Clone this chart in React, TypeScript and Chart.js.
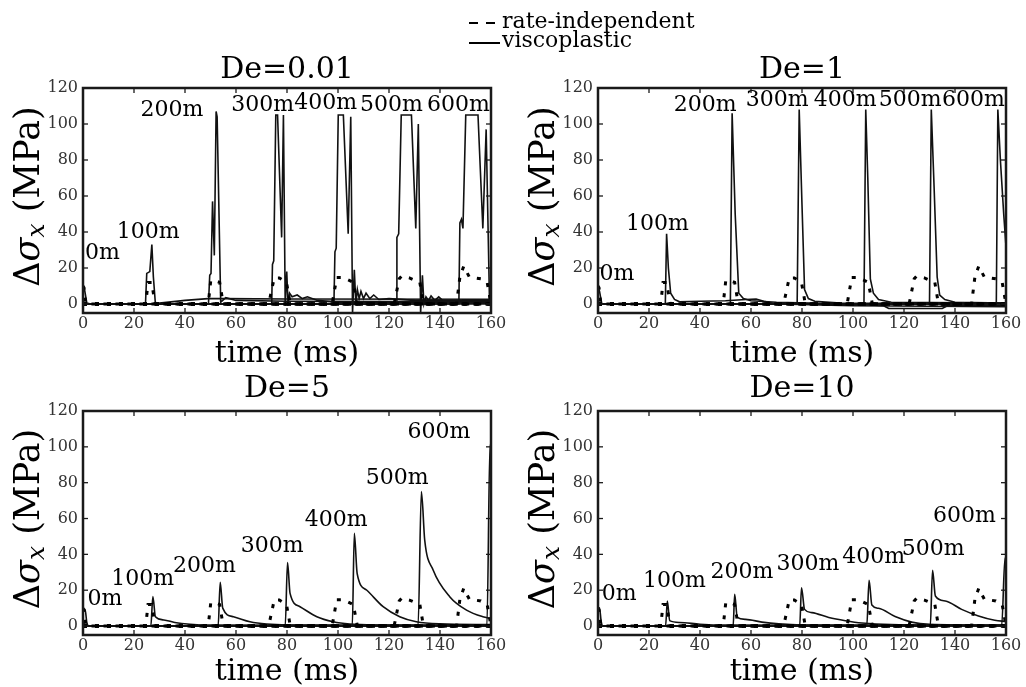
import React, { useEffect, useRef } from "react";
import { Chart, registerables } from "chart.js";
Chart.register(...registerables);

type P = [number, number][];
const FONT = "'DejaVu Serif', serif";
Chart.defaults.font.family = FONT;

const xTicks = [0, 20, 40, 60, 80, 100, 120, 140, 160];
const yTicks = [0, 20, 40, 60, 80, 100, 120];
const stations = ["0m", "100m", "200m", "300m", "400m", "500m", "600m"];

// rate-independent (same in every panel)
const ri0: P = [[0, 10], [0.4, 9], [1.1, 0], [160, 0]];
const ri100: P = [[0, 0], [24.6, 0], [25.5, 12], [26.9, 12], [28.3, 0], [160, 0]];
const ri200: P = [[0, 0], [49.1, 0], [50.1, 13], [51.5, 13], [53.6, 12], [55, 0], [160, 0]];
const ri300: P = [[0, 0], [72.8, 0], [75, 14.5], [77, 14.5], [79.8, 12], [81.3, 0], [160, 0]];
const ri400: P = [[0, 0], [97.7, 0], [99.5, 14.7], [102, 14.7], [106, 12], [107.6, 0], [160, 0]];
const ri500: P = [[0, 0], [122, 0], [124, 14], [125, 15.6], [128, 14.5], [132.1, 12], [133.5, 0], [160, 0]];
const ri600: P = [[0, 0], [146.5, 0], [147.8, 15], [149.3, 21], [151.5, 15], [156, 14], [158.5, 12], [160, 0]];

// viscoplastic, De=0.01
const a0: P = [[0, 10], [0.6, 8], [1.5, 0.5], [3, 0], [160, 0]];
const a100: P = [[0, 0], [24.5, 0], [25, 17], [26.2, 18], [27, 33], [27.6, 15], [28.4, 0], [30, 0.5], [40, 2], [49, 3], [55, 3], [80, 2.8], [160, 2.6]];
const a200: P = [[0, 0], [49.2, 0], [49.7, 16], [50.2, 17], [50.8, 57], [51.5, 27], [52.2, 107], [52.6, 104], [54, 1], [56, 3.5], [60, 2], [80, 1.5], [120, 1.3], [160, 1.2]];
const a300: P = [[0, 0], [74, 0], [74.3, 22], [74.8, 24], [75.6, 105], [76.3, 105], [77.9, 37], [78.6, 105], [79.3, -1], [79.9, 18], [80.4, 0], [81, 6], [82, 4], [84, 5], [86, 3], [88, 4], [92, 2], [100, 1], [160, 0.5]];
const a400: P = [[0, 0], [98.4, 0], [98.8, 29], [99.3, 31], [100.1, 105], [102.1, 105], [104, 39], [105, 104], [105.7, -5], [106.4, 19], [107, 0], [107.6, 8], [108.3, 3], [109, 7], [110, 3], [111, 6], [112.5, 3], [114, 5], [116, 2.5], [120, 3], [130, 2], [160, 1.8]];
const a500: P = [[0, 0], [122.8, 0], [123.1, 37], [123.8, 39], [124.8, 105], [128.8, 105], [130.5, 42], [131.5, 100], [132.4, -5], [133.1, 16], [133.7, 0], [134.5, 4], [135.5, 2], [136.5, 4.5], [138, 2], [139.5, 4], [141, 2], [145, 1.5], [160, 1]];
const a600: P = [[0, 0], [147.4, 0], [147.8, 45], [148.4, 47], [149, 42], [150.1, 105], [154.9, 105], [156.8, 42], [158.1, 97], [159.4, 2], [160, 5]];

// viscoplastic, De=1
const b0: P = [[0, 10], [0.6, 7], [1.5, 0], [160, 0]];
const b100: P = [[0, 0], [26.4, 0], [26.9, 39], [27.6, 20], [28.5, 6], [30, 2.5], [32, 1.2], [40, 1.5], [50, 1.8], [58, 2.5], [62, 2.8], [65, 1.5], [70, 0], [100, -1], [160, -1.5]];
const b200: P = [[0, 0], [51.9, 0], [52.6, 106], [53.8, 50], [55.2, 6], [57, 3], [60, 1.8], [70, 1], [100, 0], [112, -1], [114, -2.5], [135, -2.5], [137, -1], [160, -1]];
const b300: P = [[0, 0], [78.1, 0], [78.9, 108], [80, 55], [81, 8], [82.5, 3], [85, 1.5], [95, 0.5], [160, 0]];
const b400: P = [[0, 0], [104.3, 0], [105, 108], [105.8, 70], [106.8, 14], [108, 6], [110, 2.5], [115, 1], [160, 0.5]];
const b500: P = [[0, 0], [130, 0], [130.7, 108], [131.8, 65], [133, 15], [134, 5], [136, 2.5], [140, 1], [160, 0.5]];
const b600: P = [[0, 0], [156.2, 0], [156.8, 108], [157.8, 80], [159.1, 50], [160, 32]];

// viscoplastic, De=5
const c0: P = [[0, 9], [0.8, 9.3], [1.5, 2], [2.2, 0], [160, 0]];
const c100: P = [[0, 0], [26.6, 0], [27.4, 16.4], [28.4, 5.2], [31.7, 3.4], [36, 2], [42, 1], [50, 0.5], [160, 0.3]];
const c200: P = [[0, 0], [53, 0], [53.8, 24.4], [54.8, 10], [59, 5.2], [65.5, 2.4], [72, 1.1], [80, 0.6], [160, 0.3]];
const c300: P = [[0, 0], [79.3, 0], [80.2, 35.4], [81.2, 18.2], [85.1, 10.8], [91.7, 5.2], [98.1, 2.4], [104.6, 1.1], [115, 0.6], [160, 0.4]];
const c400: P = [[0, 0], [105.6, 0], [106.4, 51.8], [107.5, 29.4], [111.2, 20.1], [117.7, 10.8], [124.2, 5.2], [130.7, 2.4], [140, 1.2], [160, 0.8]];
const c500: P = [[0, 0], [131.4, 0], [132.7, 75], [134, 48], [137.3, 31.3], [143.8, 16.4], [150.4, 8.9], [156.8, 5.2], [160, 4.2]];
const c600: P = [[0, 0], [158.4, 0], [159.6, 101], [160, 100]];

// viscoplastic, De=10
const d0: P = [[0, 9], [0.6, 10.2], [1.2, 3], [1.8, 0], [160, 0]];
const d100: P = [[0, 0], [26.5, 0], [27.2, 14], [28.1, 3], [32, 2], [40, 1], [50, 0.5], [160, 0.3]];
const d200: P = [[0, 0], [53, 0], [53.6, 17.7], [54.6, 4.8], [57.9, 3.7], [64.3, 2.2], [70.9, 1.2], [80, 0.6], [160, 0.3]];
const d300: P = [[0, 0], [79.1, 0], [79.8, 21.4], [81, 9.3], [83.9, 7.5], [90.5, 4.8], [97, 3], [103.5, 1.7], [115, 0.8], [160, 0.4]];
const d400: P = [[0, 0], [105.4, 0], [106.3, 25.5], [107.4, 11.7], [110, 9.9], [116.5, 5.3], [123, 2.2], [130, 1], [160, 0.5]];
const d500: P = [[0, 0], [130.3, 0], [131.2, 31.1], [132.3, 16.8], [136.2, 14], [142.6, 9.3], [149.2, 5.6], [155.6, 3.2], [160, 2.6]];
const d600: P = [[0, 0], [158.3, 0], [159.6, 38], [160, 37]];

// station label anchor points (data units)
const lblXA = [7.6, 25.6, 34.9, 70.5, 95.2, 121, 147.2];
const lblYA = [28, 39.6, 107.8, 110.5, 111.5, 110.5, 110.5];
const lblXB = [7.4, 23.3, 42, 70.3, 96.9, 122.4, 147.2];
const lblYB = [16.5, 44.4, 110.5, 113.3, 113.3, 113.3, 113.3];
const lblXC = [8.6, 23.4, 47.6, 74.2, 99.3, 123.2, 139.6];
const lblYC = [15.1, 26.1, 33.5, 44.7, 58.8, 82.5, 108];
const lblXD = [8.3, 30, 56.4, 82.3, 108.1, 131.4, 143.7];
const lblYD = [18, 25.1, 29.8, 34.5, 38.2, 42.8, 61.5];

const riCurves = [ri0, ri100, ri200, ri300, ri400, ri500, ri600];

const panels = [
  { title: "De=0.01", vp: [a0, a100, a200, a300, a400, a500, a600], lx: lblXA, ly: lblYA, smooth: false,
    left: 0, top: 45, w: 513, h: 330, yW: 83, padR: 22, tTop: 10, tBot: 3, xH: 62, xtBot: 6 },
  { title: "De=1", vp: [b0, b100, b200, b300, b400, b500, b600], lx: lblXB, ly: lblYB, smooth: false,
    left: 513, top: 45, w: 513, h: 330, yW: 85, padR: 20, tTop: 10, tBot: 3, xH: 62, xtBot: 6 },
  { title: "De=5", vp: [c0, c100, c200, c300, c400, c500, c600], lx: lblXC, ly: lblYC, smooth: true,
    left: 0, top: 365, w: 513, h: 322, yW: 83, padR: 22, tTop: 9, tBot: 7, xH: 52, xtBot: 0 },
  { title: "De=10", vp: [d0, d100, d200, d300, d400, d500, d600], lx: lblXD, ly: lblYD, smooth: true,
    left: 513, top: 365, w: 513, h: 322, yW: 85, padR: 20, tTop: 9, tBot: 7, xH: 52, xtBot: 0 },
];

const framePlugin = {
  id: "frame",
  afterDatasetsDraw(chart: any) {
    const { ctx, chartArea: a, scales } = chart;
    ctx.save();
    ctx.strokeStyle = "#1a1a1a";
    ctx.lineWidth = 1.3;
    const ln = (x1: number, y1: number, x2: number, y2: number) => {
      ctx.beginPath(); ctx.moveTo(x1, y1); ctx.lineTo(x2, y2); ctx.stroke();
    };
    xTicks.forEach((v) => {
      const px = scales.x.getPixelForValue(v);
      ln(px, a.bottom, px, a.bottom - 5);
      ln(px, a.top, px, a.top + 5);
    });
    yTicks.forEach((v) => {
      const py = scales.y.getPixelForValue(v);
      ln(a.left, py, a.left + 5, py);
      ln(a.right, py, a.right - 5, py);
    });
    ctx.lineWidth = 2.5;
    ctx.strokeRect(a.left, a.top, a.right - a.left, a.bottom - a.top);
    ctx.restore();
  },
};

const labelPlugin = {
  id: "stationLabels",
  afterDatasetsDraw(chart: any, _args: any, opts: any) {
    const { ctx, scales } = chart;
    ctx.save();
    ctx.font = `22px ${FONT}`;
    ctx.fillStyle = "#000";
    ctx.textAlign = "center";
    ctx.textBaseline = "middle";
    stations.forEach((s, i) => {
      ctx.fillText(s, scales.x.getPixelForValue(opts.lx[i]), scales.y.getPixelForValue(opts.ly[i]));
    });
    ctx.restore();
  },
};

const yTitlePlugin = {
  id: "yTitle",
  afterDraw(chart: any) {
    const { ctx, chartArea: a } = chart;
    const cx = a.left - 53;
    const cy = (a.top + a.bottom) / 2 - 4;
    const parts: [string, string, number][] = [
      ["Δ", `35px ${FONT}`, 0],
      ["σ", `italic 35px ${FONT}`, 0],
      ["x", `italic 25px ${FONT}`, 7],
      [" (MPa)", `35px ${FONT}`, 0],
    ];
    ctx.save();
    ctx.translate(cx, cy);
    ctx.rotate(-Math.PI / 2);
    ctx.fillStyle = "#000";
    ctx.textBaseline = "middle";
    ctx.textAlign = "left";
    let total = 0;
    const widths = parts.map(([t, f]) => { ctx.font = f; const w = ctx.measureText(t).width; total += w; return w; });
    let x = -total / 2;
    parts.forEach(([t, f, dy], i) => { ctx.font = f; ctx.fillText(t, x, dy); x += widths[i]; });
    ctx.restore();
  },
};

function Panel({ cfg }: { cfg: any }) {
  const ref = useRef<HTMLCanvasElement>(null);
  useEffect(() => {
    const toXY = (p: P) => p.map(([x, y]) => ({ x, y }));
    const riSets = riCurves.map((c) => ({
      data: toXY(c), borderColor: "#000", borderWidth: 3, borderDash: [4, 8],
      pointRadius: 0, tension: 0, fill: false,
    }));
    const vpSets = cfg.vp.map((c: P) => ({
      data: toXY(c), borderColor: "#111", borderWidth: 1.6, pointRadius: 0, fill: false,
      tension: 0, cubicInterpolationMode: cfg.smooth ? "monotone" : "default",
    }));
    const tickFont = { family: FONT, size: 16 };
    const chart = new Chart(ref.current!, {
      type: "line",
      data: { datasets: [...riSets, ...vpSets] as any },
      options: {
        animation: false,
        responsive: false,
        devicePixelRatio: 1,
        events: [],
        layout: { padding: { left: 0, right: cfg.padR, top: 0, bottom: 0 } },
        plugins: {
          legend: { display: false },
          tooltip: { enabled: false },
          title: {
            display: true, text: cfg.title, fullSize: false, color: "#000",
            font: { family: FONT, size: 30, weight: "normal", lineHeight: 1 },
            padding: { top: cfg.tTop, bottom: cfg.tBot },
          },
          stationLabels: { lx: cfg.lx, ly: cfg.ly },
        } as any,
        scales: {
          x: {
            type: "linear", min: 0, max: 160,
            afterBuildTicks: (s: any) => { s.ticks = xTicks.map((v) => ({ value: v })); },
            afterFit: (s: any) => { s.height = cfg.xH; },
            grid: { display: false, drawTicks: false },
            border: { display: false },
            ticks: { color: "#333", font: tickFont, padding: 1, maxRotation: 0, autoSkip: false },
            title: {
              display: true, text: "time (ms)", color: "#000",
              font: { family: FONT, size: 30, lineHeight: 1 },
              padding: { top: 0, bottom: cfg.xtBot },
            },
          },
          y: {
            type: "linear", min: -5, max: 120,
            afterBuildTicks: (s: any) => { s.ticks = yTicks.map((v) => ({ value: v })); },
            afterFit: (s: any) => { s.width = cfg.yW; },
            grid: { display: false, drawTicks: false },
            border: { display: false },
            ticks: { color: "#333", font: tickFont, padding: 5 },
          },
        } as any,
      },
      plugins: [framePlugin, labelPlugin, yTitlePlugin],
    });
    return () => chart.destroy();
  }, []);
  return (
    <canvas
      ref={ref}
      width={cfg.w}
      height={cfg.h}
      style={{ position: "absolute", left: cfg.left, top: cfg.top, width: cfg.w, height: cfg.h }}
    />
  );
}

export default function App() {
  const txt: React.CSSProperties = {
    position: "absolute", left: 502, fontFamily: FONT, fontSize: 22, lineHeight: "22px",
    color: "#000", whiteSpace: "nowrap",
  };
  const bar = (left: number, top: number, width: number): React.CSSProperties => ({
    position: "absolute", left, top, width, height: 2, background: "#000",
  });
  return (
    <div style={{ position: "fixed", left: 0, top: 0, width: 1026, height: 687, background: "#fff", overflow: "hidden" }}>
      {panels.map((p, i) => <Panel key={i} cfg={p} />)}
      <div style={bar(469, 21.5, 9)} />
      <div style={bar(486, 21.5, 9)} />
      <div style={{ ...txt, top: 10 }}>rate-independent</div>
      <div style={bar(469, 42, 31)} />
      <div style={{ ...txt, top: 29 }}>viscoplastic</div>
    </div>
  );
}
